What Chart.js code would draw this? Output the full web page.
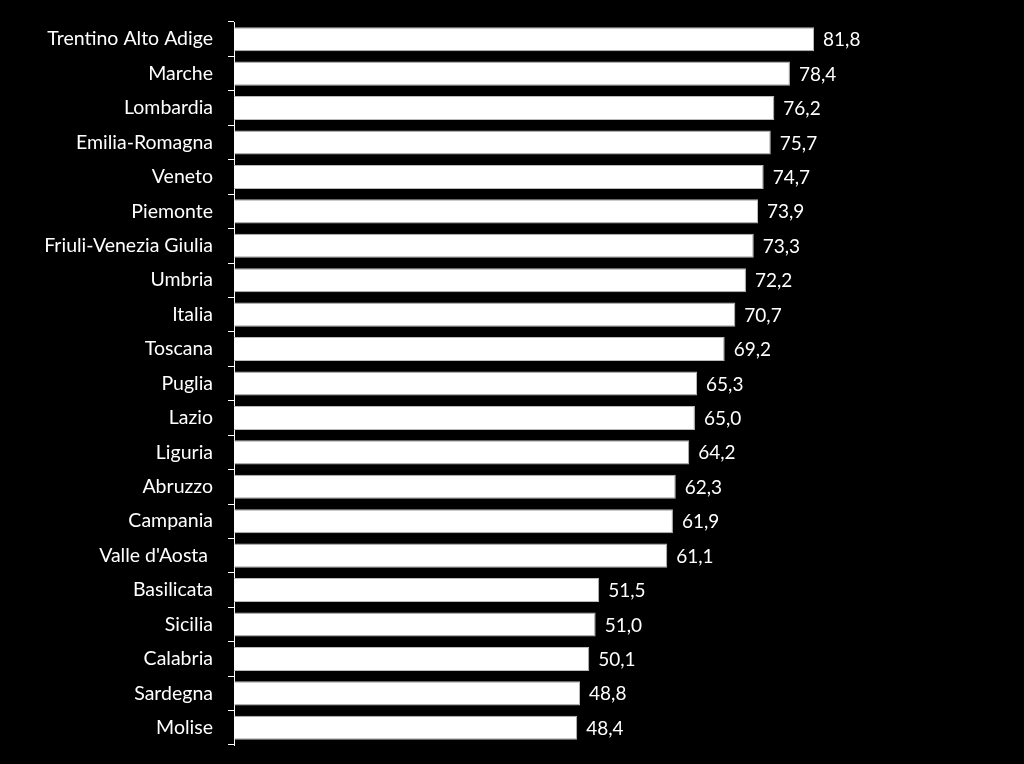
<!DOCTYPE html>
<html>
<head>
<meta charset="utf-8">
<script src="https://cdn.jsdelivr.net/npm/chart.js@4"></script>
<style>
  html, body { margin: 0; padding: 0; background: #000; }
  #wrap { width: 1024px; height: 764px; }
</style>
</head>
<body>
<div id="wrap"><canvas id="canvas"></canvas></div>
<script>
var regions = ["Trentino Alto Adige", "Marche", "Lombardia", "Emilia-Romagna", "Veneto", "Piemonte",
  "Friuli-Venezia Giulia", "Umbria", "Italia", "Toscana", "Puglia", "Lazio", "Liguria", "Abruzzo",
  "Campania", "Valle d'Aosta ", "Basilicata", "Sicilia", "Calabria", "Sardegna", "Molise"];
var values = [81.8, 78.4, 76.2, 75.7, 74.7, 73.9, 73.3, 72.2, 70.7, 69.2, 65.3, 65.0, 64.2, 62.3,
  61.9, 61.1, 51.5, 51.0, 50.1, 48.8, 48.4];

var fontFamily = "Lato, 'Open Sans', sans-serif";

// value labels at the end of each bar, with comma decimals
var valueLabels = {
  id: 'valueLabels',
  afterDatasetsDraw: function(chart){
    var ctx = chart.ctx;
    var meta = chart.getDatasetMeta(0);
    ctx.save();
    ctx.fillStyle = '#fff';
    ctx.font = '19px ' + fontFamily;
    ctx.textAlign = 'left';
    ctx.textBaseline = 'middle';
    meta.data.forEach(function(bar, i){
      var txt = values[i].toFixed(1).replace('.', ',');
      ctx.fillText(txt, bar.x + 9, bar.y + 1);
    });
    ctx.restore();
  }
};

new Chart(document.getElementById('canvas'), {
  type: 'bar',
  data: {
    labels: regions,
    datasets: [{
      data: values,
      backgroundColor: '#fff',
      borderColor: '#bbb',
      borderWidth: 1,
      categoryPercentage: 0.7,
      barPercentage: 1.0
    }]
  },
  options: {
    indexAxis: 'y',
    responsive: true,
    maintainAspectRatio: false,
    animation: false,
    layout: { padding: { top: 22, bottom: 19, right: 10, left: 0 } },
    plugins: { legend: { display: false }, tooltip: { enabled: false } },
    scales: {
      x: { display: false, min: 0, max: 110 },
      y: {
        afterFit: function(scale){
          scale.width = 234;
          scale.paddingTop = 0;
          scale.paddingBottom = 0;
        },
        grid: { drawOnChartArea: false, drawTicks: true, tickLength: 6, color: '#fff' },
        border: { display: true, color: '#fff', width: 1 },
        ticks: { color: '#fff', padding: 15, font: { size: 19.5, family: fontFamily } }
      }
    }
  },
  plugins: [valueLabels]
});
</script>
</body>
</html>
